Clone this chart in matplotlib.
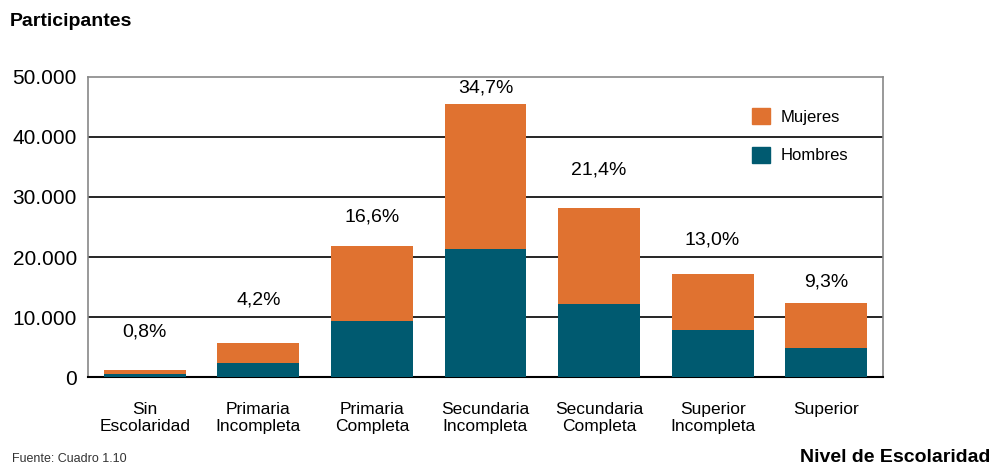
import matplotlib
matplotlib.use("Agg")
import matplotlib.pyplot as plt
from matplotlib.patches import Patch

plt.rcParams['font.family'] = ['Liberation Sans', 'DejaVu Sans']

# Data
categorias = ["Sin\nEscolaridad", "Primaria\nIncompleta", "Primaria\nCompleta",
              "Secundaria\nIncompleta", "Secundaria\nCompleta",
              "Superior\nIncompleta", "Superior"]
hombres = [500, 2400, 9300, 21300, 12200, 7800, 4800]
mujeres = [600, 3300, 12500, 24200, 16000, 9400, 7500]
porcentajes = ["0,8%", "4,2%", "16,6%", "34,7%", "21,4%", "13,0%", "9,3%"]
y_ticks = [0, 10000, 20000, 30000, 40000, 50000]
y_tick_labels = ["0", "10.000", "20.000", "30.000", "40.000", "50.000"]

# label heights (layout only)
pct_y = [7500, 12800, 26700, 48200, 34500, 22800, 15800]

color_h = "#005A70"
color_m = "#E07230"

fig = plt.figure(figsize=(9.93, 4.68), dpi=100)
ax = fig.add_axes([0.0886, 0.1944, 0.8006, 0.6411])

x = list(range(len(categorias)))
ax.bar(x, hombres, width=0.72, color=color_h, zorder=3)
ax.bar(x, mujeres, width=0.72, bottom=hombres, color=color_m, zorder=3)

for xi, txt, yy in zip(x, porcentajes, pct_y):
    ax.text(xi, yy, txt, ha="center", va="center", fontsize=14)

ax.set_xlim(-0.5, len(categorias) - 0.5)
ax.set_ylim(0, 50000)
ax.set_yticks(y_ticks)
ax.set_yticklabels(y_tick_labels, fontsize=15)
ax.set_xticks(x)
ax.set_xticklabels(categorias, fontsize=12.5, linespacing=1.2)
ax.tick_params(axis="both", length=0)
ax.tick_params(axis="x", pad=18)
ax.tick_params(axis="y", pad=8)

for yv in y_ticks[1:-1]:
    ax.axhline(yv, color="black", lw=1.2, zorder=1)

for s in ["left", "right", "top"]:
    ax.spines[s].set_color("#888888")
    ax.spines[s].set_linewidth(1.2)
ax.spines["bottom"].set_color("black")
ax.spines["bottom"].set_linewidth(1.5)

handles = [Patch(color=color_m, label="Mujeres"), Patch(color=color_h, label="Hombres")]
ax.legend(handles=handles, loc="upper left", bbox_to_anchor=(0.835, 0.895),
          frameon=False, fontsize=12, handlelength=1.1, handleheight=1.1,
          handletextpad=0.6, labelspacing=1.3, borderpad=0, borderaxespad=0)

fig.text(0.010, 0.955, "Participantes", fontsize=14, fontweight="bold", va="center")
fig.text(0.997, 0.022, "Nivel de Escolaridad", fontsize=14, fontweight="bold",
         ha="right", va="center")
fig.text(0.012, 0.006, "Fuente: Cuadro 1.10", fontsize=9, va="bottom",
         color="#333333")

fig.savefig("out.png", dpi=100)
